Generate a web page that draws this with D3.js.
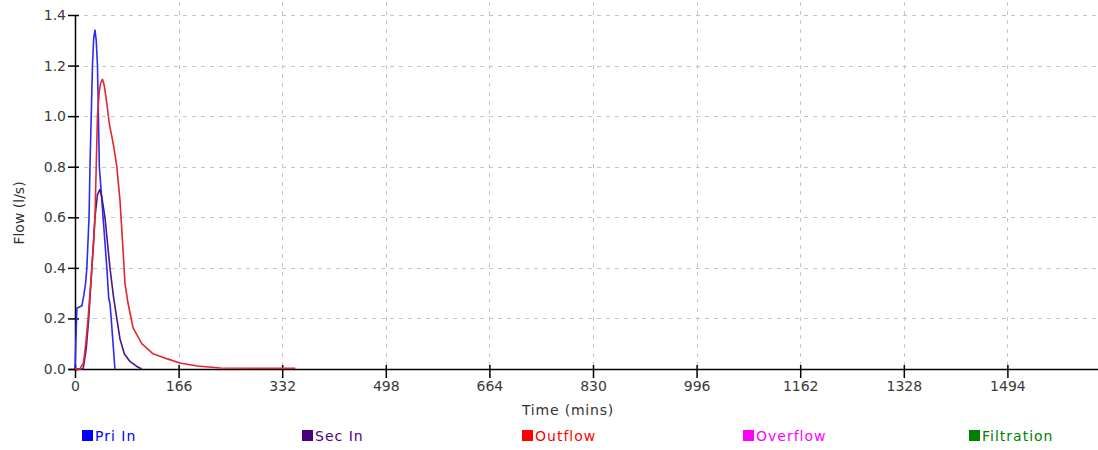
<!DOCTYPE html>
<html>
<head>
<meta charset="utf-8">
<script src="https://cdn.jsdelivr.net/npm/d3@7"></script>
<style>
  html, body { margin: 0; padding: 0; background: #fff; }
  svg { display: block; }
  text { font-family: "DejaVu Sans", Verdana, sans-serif; }
</style>
</head>
<body>
<svg id="chart" width="1098" height="450"></svg>
<script>
// Time axis ticks (minutes) and flow ticks (l/s)
const timeTicks = [0, 166, 332, 498, 664, 830, 996, 1162, 1328, 1494];
const flowTicks = [0.0, 0.2, 0.4, 0.6, 0.8, 1.0, 1.2, 1.4];

// Primary inflow hydrograph
const priInTime = [0, 3, 11, 14, 17, 19, 22.5, 24, 26, 28, 30, 32, 34, 36, 37.5, 39, 42, 45, 51, 54, 56, 58, 61, 64];
const priInFlow = [0, 0.24, 0.25, 0.29, 0.34, 0.4, 0.6, 0.8, 1.0, 1.2, 1.31, 1.34, 1.3, 1.2, 1.0, 0.8, 0.7, 0.6, 0.4, 0.28, 0.26, 0.2, 0.1, 0];

// Secondary inflow hydrograph
const secInTime = [0, 13, 18, 22, 27, 32, 36, 40, 43, 48, 56, 62, 67, 72, 79, 88, 99, 107];
const secInFlow = [0, 0, 0.08, 0.2, 0.4, 0.6, 0.69, 0.71, 0.68, 0.6, 0.4, 0.28, 0.2, 0.12, 0.06, 0.03, 0.01, 0];

// Outflow hydrograph
const outflowTime = [0, 8, 11, 13, 15, 18, 21, 24, 27, 30, 32, 34, 36, 39, 41, 44, 47, 51, 55, 59, 62, 67, 72, 77, 80, 85, 93, 107, 125, 148, 168, 196, 233, 290, 353];
const outflowFlow = [0, 0, 0.015, 0.02, 0.05, 0.12, 0.2, 0.3, 0.4, 0.5, 0.6, 0.8, 1.0, 1.1, 1.13, 1.146, 1.12, 1.05, 0.97, 0.92, 0.88, 0.8, 0.67, 0.47, 0.34, 0.26, 0.163, 0.1, 0.06, 0.04, 0.024, 0.012, 0.004, 0.003, 0.003];

// Overflow and filtration carry no flow for this event
const overflowTime = [];
const overflowFlow = [];
const filtrationTime = [];
const filtrationFlow = [];

const seriesNames = ["Pri In", "Sec In", "Outflow", "Overflow", "Filtration"];
const seriesColors = ["#2b2bf2", "#4b1590", "#e3262e", "#ff00ff", "#008000"];
const legendColors = ["#0000ff", "#4b0082", "#ff0000", "#ff00ff", "#008000"];

const series = [
  { name: seriesNames[0], t: priInTime, v: priInFlow, color: seriesColors[0] },
  { name: seriesNames[1], t: secInTime, v: secInFlow, color: seriesColors[1] },
  { name: seriesNames[3], t: overflowTime, v: overflowFlow, color: seriesColors[3] },
  { name: seriesNames[4], t: filtrationTime, v: filtrationFlow, color: seriesColors[4] },
  { name: seriesNames[2], t: outflowTime, v: outflowFlow, color: seriesColors[2] }
];

const svg = d3.select("#chart");
const W = 1098;
const x0 = 75, yBase = 369, yTop = 15;

const x = d3.scaleLinear().domain([0, 1660]).range([x0, x0 + 1660 / 166 * 103.6]);
const y = d3.scaleLinear().domain([0, 1.4]).range([yBase, yTop]);

// Grid
const grid = svg.append("g");
grid.selectAll("line.h").data(flowTicks.filter(d => d > 0)).join("line")
  .attr("x1", x0).attr("x2", W)
  .attr("y1", d => Math.round(y(d)) + 0.5).attr("y2", d => Math.round(y(d)) + 0.5)
  .attr("stroke", "#c4c4c4").attr("stroke-width", 1).attr("stroke-dasharray", "4,5");
grid.selectAll("line.v").data(timeTicks.filter(d => d > 0)).join("line")
  .attr("x1", d => Math.round(x(d)) + 0.5).attr("x2", d => Math.round(x(d)) + 0.5)
  .attr("y1", 2).attr("y2", yBase)
  .attr("stroke", "#c4c4c4").attr("stroke-width", 1).attr("stroke-dasharray", "4,5");

// Axes
const xAxis = d3.axisBottom(x).tickValues(timeTicks).tickFormat(d3.format("d"))
  .tickSizeInner(9).tickSizeOuter(0).tickPadding(3);
const gx = svg.append("g").attr("transform", `translate(0,${yBase})`).call(xAxis);
gx.select(".domain").attr("d", `M${x0 - 6},0.5H${W}`).attr("stroke", "#000").attr("stroke-width", 1.3);
gx.selectAll(".tick line").attr("y1", -4).attr("stroke", "#000").attr("stroke-width", 1.5);
gx.selectAll(".tick text").attr("font-size", 14).attr("fill", "#3a3a3a")
  .attr("font-family", "DejaVu Sans, sans-serif");

const yAxis = d3.axisLeft(y).tickValues(flowTicks).tickFormat(d3.format(".1f"))
  .tickSizeInner(7).tickSizeOuter(0).tickPadding(2);
const gy = svg.append("g").attr("transform", `translate(${x0},0)`).call(yAxis);
gy.select(".domain").attr("stroke", "#000").attr("stroke-width", 1.5);
gy.selectAll(".tick line").attr("x2", 4).attr("x1", -7).attr("stroke", "#000").attr("stroke-width", 1.5);
gy.selectAll(".tick text").attr("font-size", 14).attr("fill", "#3a3a3a")
  .attr("font-family", "DejaVu Sans, sans-serif");

// Axis titles
svg.append("text").attr("x", 568).attr("y", 415).attr("text-anchor", "middle")
  .attr("font-size", 14).attr("letter-spacing", 0.8).attr("fill", "#333").text("Time (mins)");
svg.append("text").attr("transform", "translate(24,213) rotate(-90)").attr("text-anchor", "middle")
  .attr("font-size", 14).attr("fill", "#333").text("Flow (l/s)");

// Series lines
const line = d3.line().x(d => x(d[0])).y(d => y(d[1]));
svg.append("g").selectAll("path").data(series.filter(s => s.t.length)).join("path")
  .attr("d", s => line(d3.zip(s.t, s.v)))
  .attr("fill", "none").attr("stroke", s => s.color).attr("stroke-width", 1.6)
  .attr("stroke-linejoin", "round");

// Legend
const legendX = [82, 302, 522, 743, 969];
const lg = svg.append("g").selectAll("g").data(seriesNames).join("g")
  .attr("transform", (d, i) => `translate(${legendX[i]},430)`);
lg.append("rect").attr("width", 11).attr("height", 11).attr("fill", (d, i) => legendColors[i]);
lg.append("text").attr("x", 13).attr("y", 11).attr("font-size", 14).attr("letter-spacing", 1)
  .attr("fill", (d, i) => legendColors[i]).text(d => d);
</script>
</body>
</html>
